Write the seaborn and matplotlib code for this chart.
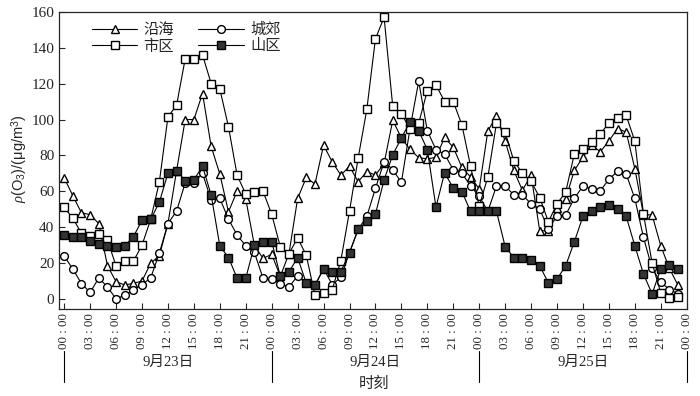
import numpy as np
import pandas as pd
import matplotlib
matplotlib.use("Agg")
import matplotlib.pyplot as plt
import matplotlib.transforms as mtransforms
import seaborn as sns

# hourly O3 concentration, 9/23 00:00 .. 9/25 23:00
hours = list(range(72))

coastal = [67.5, 57.5, 48, 47, 42, 18.6, 9.6, 7.8, 8.7, 10, 19.9, 24,
           42, 71.5, 100, 100, 114.5, 85, 69.6, 48.6, 60, 55.7, 29.8, 22.6,
           24.9, 12.6, 25.3, 56, 67.7, 64, 85.7, 76.4, 69, 74, 65.3, 71,
           69, 75.5, 99.6, 89.7, 83.3, 78.8, 78, 79, 90, 84.5, 73.3, 68,
           61.3, 93.7, 101.8, 88, 71.6, 60.5, 69, 38, 38, 50.5, 55.6, 71.6,
           79, 86, 82, 88, 95, 93, 72.7, 47, 46.8, 29.6, 17, 7.6]
suburb = [24, 16.6, 8.6, 3.6, 11.7, 6.7, 0, 2.2, 5, 8, 11.7, 25.5,
          42, 49, 64.7, 64.7, 70, 55, 56, 44.5, 35.6, 29.6, 25.9, 11.5,
          11, 8.5, 6.7, 12.8, 8.8, 7.6, 16.8, 8, 12, 25.8, 38.8, 46,
          61.6, 76.5, 72, 65, 95, 121.3, 93.7, 83.2, 80.7, 72, 70, 63,
          57.2, 48.8, 63, 63, 58, 58, 53, 50, 39, 46.2, 46.8, 56,
          63, 61.4, 60.2, 66.7, 71.1, 69.6, 56, 34.3, 17, 9.4, 5.2, 3]
urban = [51, 45, 36.5, 35.3, 36, 33, 18.3, 21, 21, 30, 44.3, 65,
         101.5, 108, 134, 134, 136, 120, 117, 96, 69, 58.4, 59.4, 60,
         47.2, 29, 25.3, 34, 24.3, 2.2, 3.2, 5.2, 21.4, 49, 78.5, 105.6,
         145, 157, 107.3, 103, 95, 98, 116, 119.3, 110, 110, 97, 74,
         51.6, 68, 98, 93, 77, 70, 65.5, 56.5, 43, 53, 59.5, 80.7,
         83.3, 87.3, 92, 98, 101, 102.3, 88, 47.3, 20, 3.3, 0.6, 1]
mountain = [35.8, 34.5, 34.5, 32.2, 30.8, 29.3, 29, 29.6, 34.7, 43.8, 44.3, 53.9,
            70, 71.5, 66, 66.3, 74, 57.9, 29.6, 23.1, 11.6, 11.6, 29.8, 32,
            32, 12.6, 15.2, 23, 8.8, 7.6, 16.8, 15.2, 15.2, 25.8, 38.8, 43.2,
            47.3, 66.4, 80.3, 89.7, 98.7, 93.8, 83.2, 51.2, 70.3, 61.8, 59.8, 48.8,
            48.8, 48.8, 48.8, 29.2, 23, 23, 21.7, 18.4, 9, 11, 18.5, 31.8,
            46, 49, 51, 52.3, 50, 46, 29.6, 13.9, 2.8, 16.8, 19.2, 16.8]

tick_hours = list(range(0, 73, 3))
tick_labels = ["00 : 00", "03 : 00", "06 : 00", "09 : 00", "12 : 00", "15 : 00",
               "18 : 00", "21 : 00"] * 3 + ["00 : 00"]
days = ["9月23日", "9月24日", "9月25日"]

df = pd.DataFrame({"hour": hours, "沿海": coastal, "城郊": suburb,
                   "市区": urban, "山区": mountain})

sns.set_style("ticks")
plt.rcParams["font.family"] = ["Liberation Serif", "Noto Sans CJK SC"]
plt.rcParams["mathtext.fontset"] = "custom"
plt.rcParams["mathtext.rm"] = "Liberation Sans"
plt.rcParams["mathtext.it"] = "Liberation Serif:italic"

fig = plt.figure(figsize=(7, 3.96), dpi=100)
ax = fig.add_axes([0.0843, 0.2197, 0.8967, 0.7503])

styles = {
    "沿海": dict(marker="^", markerfacecolor="white"),
    "城郊": dict(marker="o", markerfacecolor="white"),
    "市区": dict(marker="s", markerfacecolor="white"),
    "山区": dict(marker="s", markerfacecolor="#333333"),
}
for name in ["沿海", "城郊", "市区", "山区"]:
    sns.lineplot(data=df, x="hour", y=name, ax=ax, color="black", linewidth=0.8,
                 markersize=5.6, markeredgecolor="black", markeredgewidth=1.0,
                 label=name, **styles[name])

ax.set_xlim(-0.6, 72)
ax.set_ylim(-5.6, 160)
ax.set_xticks(tick_hours)
ax.set_xticklabels(tick_labels, rotation=90, fontsize=9.3)
ax.set_yticks(range(0, 161, 20))
ax.tick_params(axis="y", labelsize=11)
ax.tick_params(direction="in", length=4, width=0.8, top=False, right=False)
ax.tick_params(axis="x", pad=3)
for s in ax.spines.values():
    s.set_linewidth(0.9)
ax.set_xlabel("")
ax.set_ylabel("")

h, l = ax.get_legend_handles_labels()
order = [l.index(n) for n in ["沿海", "市区", "城郊", "山区"]]
ax.legend([h[i] for i in order], [l[i] for i in order], ncol=2, loc="upper left",
          bbox_to_anchor=(0.03, 1.01), frameon=False, fontsize=11,
          handlelength=3.0, columnspacing=1.6, labelspacing=0.15, handletextpad=0.4)

# day labels and separators under the time ticks
trans = mtransforms.blended_transform_factory(ax.transData, ax.transAxes)
for i, d in enumerate(days):
    ax.text(24 * i + 12, -0.178, d, transform=trans, ha="center", va="center",
            fontsize=10.5)
for x in [0, 24, 48, 72]:
    ax.plot([x, x], [-0.14, -0.245], transform=trans, color="black",
            linewidth=0.8, clip_on=False)

fig.text(0.535, 0.03, "时刻", ha="center", va="center", fontsize=11)
fig.text(0.028, 0.6, r"$\it{\rho}$(O$_3$)/(μg/m$^3$)", rotation=90,
         ha="center", va="center", fontsize=10.5, family="Liberation Sans")

fig.savefig("out.png", dpi=100)
